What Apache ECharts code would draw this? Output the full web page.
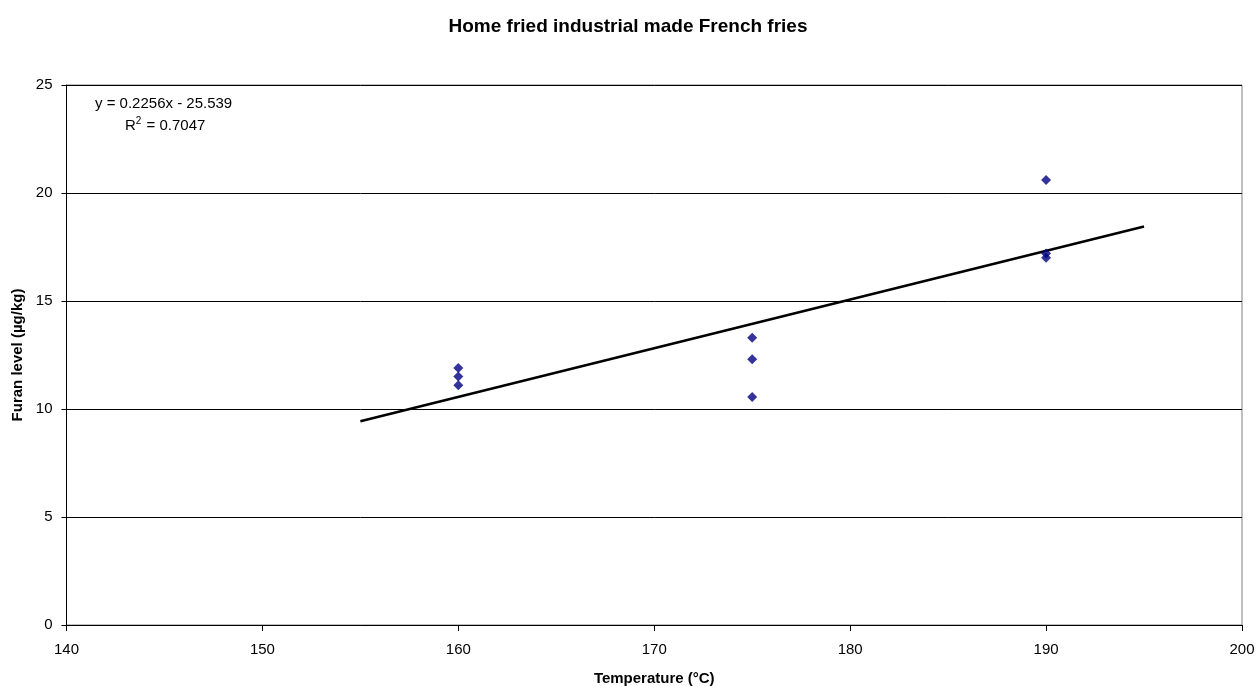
<!DOCTYPE html>
<html>
<head>
<meta charset="utf-8">
<script src="https://cdn.jsdelivr.net/npm/echarts@6/dist/echarts.min.js"></script>
<style>
  html, body { margin: 0; padding: 0; background: #fff; }
  #chart { width: 1256px; height: 686px; }
</style>
</head>
<body>
<div id="chart"></div>
<script>
// Measured furan levels for home-fried industrial French fries
const temperatures = [160, 160, 160, 175, 175, 175, 190, 190, 190];
const furanLevels  = [11.9, 11.5, 11.1, 13.3, 12.3, 10.55, 20.6, 17.2, 17.0];

// Linear trendline (least squares fit) and its range
const trendSlope = 0.2256;
const trendIntercept = -25.539;
const trendR2 = 0.7047;
const trendRange = [155, 195];

// Axis ticks
const xTicks = [140, 150, 160, 170, 180, 190, 200];
const yTicks = [0, 5, 10, 15, 20, 25];

const points = temperatures.map((t, i) => [t, furanLevels[i]]);
const trendPoints = trendRange.map(x => [x, trendSlope * x + trendIntercept]);

const FONT = '"Liberation Sans", Arial, sans-serif';
const chart = echarts.init(document.getElementById('chart'), null, { renderer: 'canvas' });

const eqText = 'y = ' + trendSlope.toFixed(4) + 'x ' + (trendIntercept < 0 ? '- ' : '+ ') + Math.abs(trendIntercept).toFixed(3);
const r2Text = '{r|R}{s|2}{r| = ' + trendR2.toFixed(4) + '}';

chart.setOption({
  animation: false,
  backgroundColor: '#ffffff',
  title: {
    text: 'Home fried industrial made French fries',
    left: 'center',
    top: 12,
    textStyle: { fontFamily: FONT, fontSize: 19, fontWeight: 'bold', color: '#000' }
  },
  grid: {
    left: 66.5, right: 14, top: 85, bottom: 61,
    containLabel: false,
    outerBoundsMode: 'none',
    show: true, borderColor: '#808080', borderWidth: 1, backgroundColor: 'transparent'
  },
  xAxis: {
    type: 'value',
    min: xTicks[0], max: xTicks[xTicks.length - 1], interval: xTicks[1] - xTicks[0],
    name: 'Temperature (°C)',
    nameLocation: 'middle',
    nameGap: 46,
    nameTextStyle: { fontFamily: FONT, fontSize: 15, fontWeight: 'bold', color: '#000' },
    axisLine: { show: true, onZero: false, lineStyle: { color: '#000', width: 1 } },
    axisTick: { show: true, inside: false, length: 6, lineStyle: { color: '#000' } },
    axisLabel: { margin: 17, fontFamily: FONT, fontSize: 15, color: '#000' },
    splitLine: { show: false }
  },
  yAxis: {
    type: 'value',
    min: yTicks[0], max: yTicks[yTicks.length - 1], interval: yTicks[1] - yTicks[0],
    name: 'Furan level (µg/kg)',
    nameLocation: 'middle',
    nameGap: 38,
    nameTextStyle: { fontFamily: FONT, fontSize: 15, fontWeight: 'bold', color: '#000' },
    axisLine: { show: true, onZero: false, lineStyle: { color: '#000', width: 1 } },
    axisTick: { show: true, inside: false, length: 5, lineStyle: { color: '#000' } },
    axisLabel: { margin: 14, fontFamily: FONT, fontSize: 15, color: '#000' },
    splitLine: { show: true, lineStyle: { color: '#000', width: 1 } }
  },
  series: [
    {
      name: 'Furan level',
      type: 'scatter',
      data: points,
      symbol: 'diamond',
      symbolSize: [10, 10],
      itemStyle: { color: '#000080' },
      z: 3
    },
    {
      name: 'Linear trend',
      type: 'line',
      data: trendPoints,
      showSymbol: false,
      symbol: 'none',
      lineStyle: { color: '#000', width: 2.5 },
      z: 2
    }
  ],
  graphic: [
    {
      type: 'text',
      left: 95, top: 96,
      style: { text: eqText, font: '15px ' + FONT, fill: '#000' }
    },
    {
      type: 'text',
      left: 125, top: 116,
      style: {
        text: r2Text,
        rich: {
          r: { fontFamily: FONT, fontSize: 15, fill: '#000', color: '#000' },
          s: { fontFamily: FONT, fontSize: 10, fill: '#000', color: '#000', padding: [0, 1, 9, 0] }
        }
      }
    }
  ]
});
</script>
</body>
</html>
